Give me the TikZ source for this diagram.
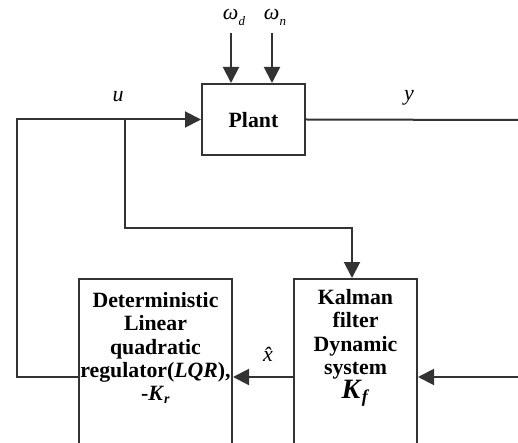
\documentclass[tikz,border=0pt]{standalone}
\usepackage{fontspec}
\setmainfont{Liberation Serif}
\usetikzlibrary{arrows.meta}
\definecolor{ln}{HTML}{333333}
\tikzset{
  blk/.style={draw=ln, line width=2pt, rectangle, inner sep=0pt},
  txt/.style={align=center, inner sep=0pt, font=\fontsize{21.8}{23.3}\selectfont\bfseries},
  lbl/.style={inner sep=0pt, font=\fontsize{22}{24}\selectfont\itshape},
  wire/.style={draw=ln, line width=2pt},
  arr/.style={wire, -{Triangle[length=16pt,width=16pt]}}
}
\begin{document}
\begin{tikzpicture}[x=1pt,y=-1pt]
\clip (0,0) rectangle (518,443);
\fill[white] (0,0) rectangle (518,443);
% blocks
\node[blk, minimum width=103pt, minimum height=71pt] (plant) at (253.5,119.5) {};
\node[txt] (planttxt) at (253.5,120) {Plant};
\node[blk, anchor=north, minimum width=153pt, minimum height=200pt] (lqr) at (155.5,278) {};
\node[txt] (lqrtxt) at (155.5,348) {Deterministic\\Linear\\quadratic\\regulator(\textit{LQR}),\\-\textit{K}\raisebox{-3pt}{\fontsize{14}{14}\selectfont\textit{r}}};
\node[blk, anchor=north, minimum width=123pt, minimum height=200pt] (kal) at (355.5,278) {};
\node[txt] (kaltxt) at (355.5,348) {Kalman\\filter\\Dynamic\\system\\[1pt]{\fontsize{28}{28}\selectfont\textit{K}}\raisebox{-4pt}{\fontsize{18}{18}\selectfont\textit{f}}};
% labels
\node[lbl] (wd) at (234,17) {ω\raisebox{-6pt}{\fontsize{13}{13}\selectfont d}};
\node[lbl] (wn) at (275,17) {ω\raisebox{-6pt}{\fontsize{13}{13}\selectfont n}};
\node[lbl] (ulbl) at (118,97) {u};
\node[lbl] (ylbl) at (409,98) {y};
\node[lbl] (xhat) at (268,354) {\^{x}};
% coordinates
\coordinate (midy) at (0,377);
\coordinate (fbl) at (17,377);
\coordinate (br) at (125,120);
\coordinate (kin) at (352,228);
\coordinate (out) at (518,120);
\coordinate (rin) at (518,377);
\coordinate (wdtop) at (231,33);
\coordinate (wntop) at (272,33);
% connectors
\draw[arr] (wdtop) -- (wdtop |- plant.north);
\draw[arr] (wntop) -- (wntop |- plant.north);
\draw[arr] (midy -| lqr.west) -- (fbl) |- (plant.west);
\draw[arr] (br) |- (kin) -- (kin |- kal.north);
\draw[wire] (plant.east) -- (out);
\draw[arr] (midy -| kal.west) -- (midy -| lqr.east);
\draw[arr] (rin) -- (midy -| kal.east);
\end{tikzpicture}
\end{document}
